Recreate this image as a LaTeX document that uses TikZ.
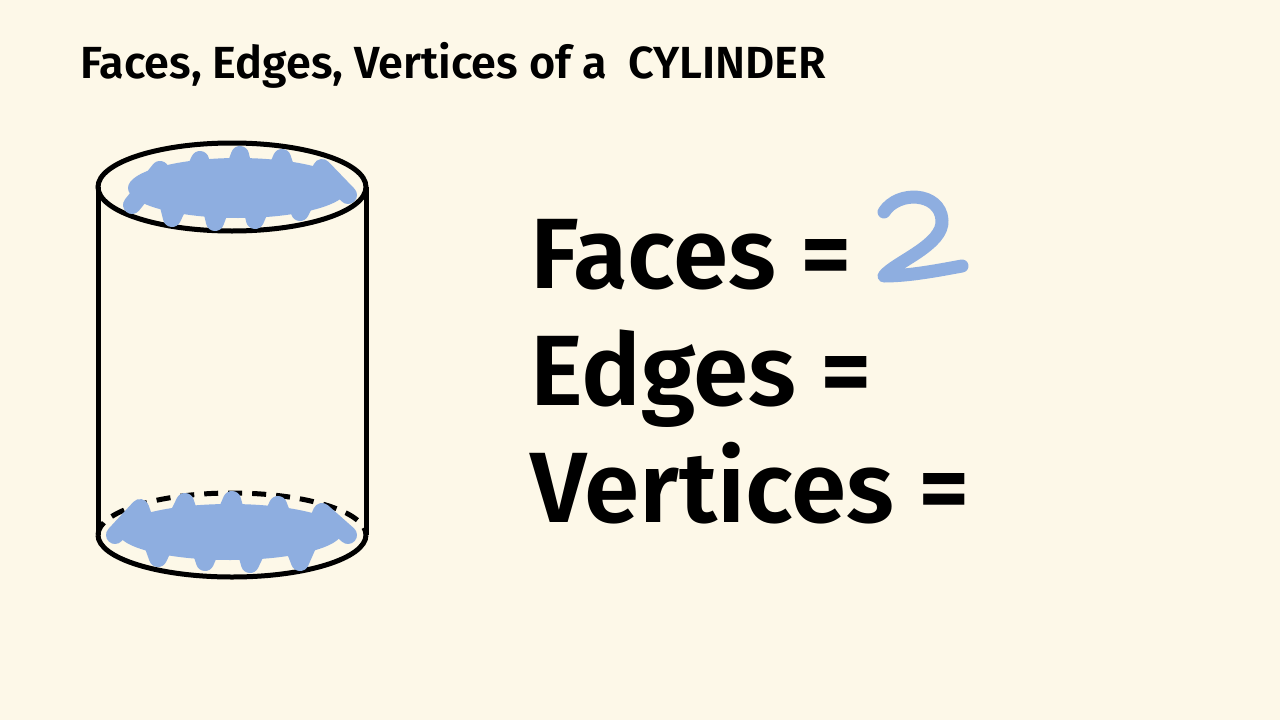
\documentclass[tikz,border=0pt]{standalone}
\usepackage{fontspec}
\setmainfont{Fira Sans}[UprightFont=* SemiBold]
\definecolor{bg}{HTML}{FDF8E8}
\definecolor{scrib}{HTML}{8EAEE0}
\begin{document}
\begin{tikzpicture}[x=1pt,y=-1pt,
  outline/.style={line width=5pt,black},
  scribble/.style={scrib,line width=18pt,line cap=round,line join=round},
  big/.style={anchor=base west,inner sep=0pt,font=\fontsize{100}{100}\selectfont},
  title/.style={anchor=base west,inner sep=0pt,font=\fontsize{45}{45}\selectfont}]
\fill[bg] (0,0) rectangle (1280,720);
\useasboundingbox (0,0) rectangle (1280,720);
% title
\node[title] (t1) at (80,78) {Faces, Edges, Vertices of a};
\node[title] (t2) at (628,78) {CYLINDER};
% cylinder
\draw[outline] (98,187) -- (98,535);
\draw[outline] (366,187) -- (366,535);
\draw[outline] (232,187) ellipse [x radius=134,y radius=44];
\draw[outline] (98,535) arc[start angle=180,end angle=0,x radius=134,y radius=42];
\draw[outline,dashed,dash pattern=on 14pt off 10pt] (98,535) arc[start angle=180,end angle=360,x radius=134,y radius=42];
% scribbles
\fill[scrib] (238,188) ellipse [x radius=110,y radius=30];
\draw[scribble] (132,205) -- (160,170) -- (172,218) -- (200,160) -- (215,222) -- (240,155) -- (255,220) -- (282,158) -- (300,212) -- (322,168) -- (348,195);
\fill[scrib] (230,532) ellipse [x radius=112,y radius=28];
\draw[scribble] (115,535) -- (140,508) -- (158,558) -- (185,502) -- (205,562) -- (232,500) -- (250,564) -- (278,505) -- (300,562) -- (322,512) -- (348,535);
% text
\node[big] (f) at (530,288) {Faces =};
\node[big] (e) at (530,405) {Edges =};
\node[big] (v) at (530,522) {Vertices =};
% handwritten 2
\draw[scrib,line width=13pt,line cap=round,line join=round]
  (884,212) .. controls (898,190) and (940,192) .. (942,220)
  .. controls (944,245) and (895,262) .. (884,276)
  .. controls (910,276) and (940,270) .. (962,266);
\end{tikzpicture}
\end{document}
